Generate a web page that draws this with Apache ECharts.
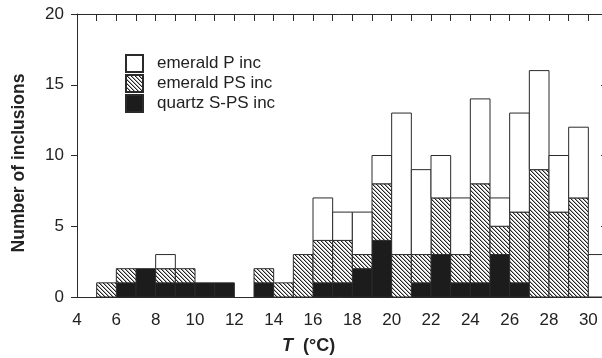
<!DOCTYPE html>
<html>
<head>
<meta charset="utf-8">
<script src="https://cdn.jsdelivr.net/npm/echarts@6/dist/echarts.min.js"></script>
<style>
  html, body { margin: 0; padding: 0; background: #fff; }
  #main { width: 602px; height: 358px; }
</style>
</head>
<body>
<div id="main"></div>
<script>
// bin left edges (°C), each bin is 1 °C wide
var bins = [5, 6, 7, 8, 9, 10, 11, 12, 13, 14, 15, 16, 17, 18, 19, 20, 21, 22, 23, 24, 25, 26, 27, 28, 29, 30];
// counts per bin, stacked bottom -> top
var quartzSPS  = [0, 1, 2, 1, 1, 1, 1, 0, 1, 0, 0, 1, 1, 2, 4, 0, 1, 3, 1, 1, 3, 1, 0, 0, 0, 0];
var emeraldPS  = [1, 1, 0, 1, 1, 0, 0, 0, 1, 1, 3, 3, 3, 1, 4, 3, 2, 4, 2, 7, 2, 5, 9, 6, 7, 0];
var emeraldP   = [0, 0, 0, 1, 0, 0, 0, 0, 0, 0, 0, 3, 2, 3, 2, 10, 6, 3, 4, 6, 2, 7, 7, 4, 5, 3];
var xTicks = [4, 6, 8, 10, 12, 14, 16, 18, 20, 22, 24, 26, 28, 30];

var font = 'Liberation Sans, Arial, sans-serif';
var ink = '#2a2a2a';

// hatch pattern "\\\\"
var tile = document.createElement('canvas');
tile.width = 4; tile.height = 4;
var tc = tile.getContext('2d');
tc.fillStyle = '#fff';
tc.fillRect(0, 0, 4, 4);
for (var i = 0; i < 4; i++) {
  tc.fillStyle = '#222';
  tc.fillRect(i, i, 1, 1);
  tc.fillStyle = '#aaa';
  tc.fillRect((i + 1) % 4, i, 1, 1);
}
var hatch = { image: tile, repeat: 'repeat' };

// build [x0, base, top] segments
function segs(vals, below) {
  var out = [];
  for (var i = 0; i < bins.length; i++) {
    var base = 0;
    for (var j = 0; j < below.length; j++) base += below[j][i];
    if (vals[i] > 0) out.push([bins[i], base, base + vals[i]]);
  }
  return out;
}

function renderBin(params, api) {
  var p0 = api.coord([api.value(0), api.value(2)]);
  var p1 = api.coord([api.value(0) + 1, api.value(1)]);
  return {
    type: 'rect',
    shape: { x: p0[0], y: p0[1], width: p1[0] - p0[0], height: p1[1] - p0[1] },
    style: api.style()
  };
}

var chart = echarts.init(document.getElementById('main'));
chart.setOption({
  animation: false,
  grid: { left: 77, top: 14, width: 531, height: 283, outerBoundsMode: 'none', containLabel: false },
  legend: {
    left: 120, top: 49,
    orient: 'vertical',
    itemWidth: 17, itemHeight: 17, itemGap: 1,
    icon: 'rect',
    data: ['emerald P inc', 'emerald PS inc', 'quartz S-PS inc'],
    textStyle: { fontFamily: font, fontSize: 17, color: '#222', lineHeight: 17, padding: [0, 0, 0, 9] }
  },
  xAxis: [{
    type: 'value', position: 'bottom', min: 4, max: 31, interval: 2,
    axisLine: { onZero: false, lineStyle: { color: ink, width: 1 } },
    axisTick: { show: false },
    splitLine: { show: false },
    axisLabel: { fontFamily: font, fontSize: 17, color: '#222', margin: 15, showMaxLabel: false,
      formatter: function (v) { return xTicks.indexOf(v) >= 0 ? String(v) : ''; } }
  }, {
    type: 'value', position: 'top', min: 4, max: 31, interval: 1,
    axisLine: { show: true, onZero: false, lineStyle: { color: ink, width: 1 } },
    axisTick: { inside: true, length: 7, lineStyle: { color: ink } },
    axisLabel: { show: false },
    splitLine: { show: false }
  }],
  yAxis: [{
    type: 'value', position: 'left', min: 0, max: 20, interval: 5,
    axisLine: { show: true, onZero: false, lineStyle: { color: ink, width: 1 } },
    axisTick: { show: true, length: 6, lineStyle: { color: ink } },
    axisLabel: { fontFamily: font, fontSize: 17, color: '#222', margin: 13 },
    splitLine: { show: false }
  }, {
    type: 'value', position: 'right', min: 0, max: 20, interval: 5,
    axisLine: { show: true, onZero: false, lineStyle: { color: ink, width: 1 } },
    axisTick: { show: true, inside: true, length: 7, lineStyle: { color: ink } },
    axisLabel: { show: false },
    splitLine: { show: false }
  }],
  series: [{
    name: 'quartz S-PS inc', type: 'custom', renderItem: renderBin,
    encode: { x: 0, y: [1, 2] },
    itemStyle: { color: '#1c1c1c', borderColor: ink, borderWidth: 1 },
    data: segs(quartzSPS, [])
  }, {
    name: 'emerald PS inc', type: 'custom', renderItem: renderBin,
    encode: { x: 0, y: [1, 2] },
    itemStyle: { color: hatch, borderColor: ink, borderWidth: 1 },
    data: segs(emeraldPS, [quartzSPS])
  }, {
    name: 'emerald P inc', type: 'custom', renderItem: renderBin,
    encode: { x: 0, y: [1, 2] },
    itemStyle: { color: '#fff', borderColor: ink, borderWidth: 1 },
    data: segs(emeraldP, [quartzSPS, emeraldPS])
  }],
  graphic: [{
    type: 'text', x: 19, y: 163, rotation: Math.PI / 2,
    style: { text: 'Number of inclusions', fontFamily: font, fontSize: 17.5, fontWeight: 'bold',
      fill: '#222', align: 'center', verticalAlign: 'middle' }
  }, {
    type: 'text', left: 282, top: 337,
    style: {
      text: '{i|T}  (°C)',
      rich: {
        i: { fontFamily: font, fontSize: 18, fontWeight: 'bold', fontStyle: 'italic', fill: '#222' }
      },
      fontFamily: font, fontSize: 18, fontWeight: 'bold', fill: '#222'
    }
  }]
});
</script>
</body>
</html>
